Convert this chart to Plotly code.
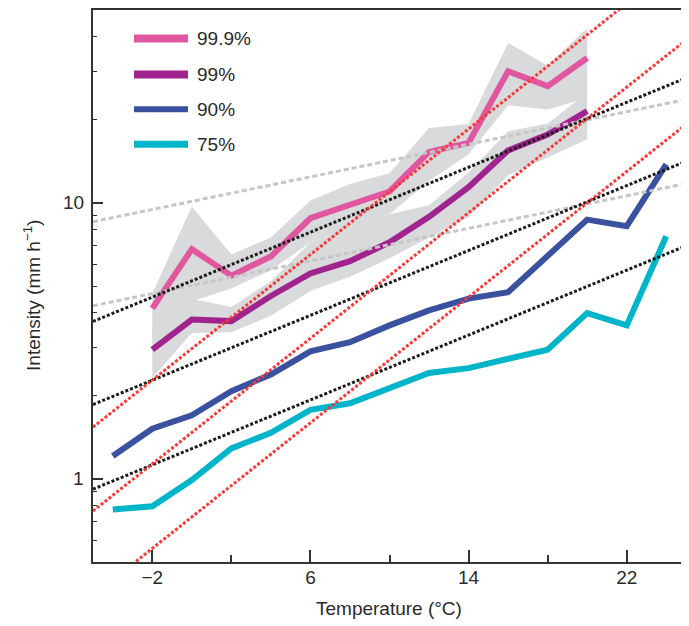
import math
import plotly.graph_objects as go

# ---------------- data ----------------
temps_hi = [-2, 0, 2, 4, 6, 8, 10, 12, 14, 16, 18, 20]
p999 = [4.15, 6.8, 5.45, 6.4, 8.8, 9.8, 11.0, 15.3, 16.5, 30.0, 26.5, 33.5]
p99 = [2.94, 3.78, 3.73, 4.6, 5.55, 6.15, 7.2, 8.9, 11.4, 15.5, 17.7, 21.5]

temps_lo = [-4, -2, 0, 2, 4, 6, 8, 10, 12, 14, 16, 18, 20, 22, 24]
p90 = [1.21, 1.52, 1.7, 2.08, 2.39, 2.9, 3.13, 3.6, 4.08, 4.5, 4.75, 6.4, 8.7, 8.24, 13.8]
p75 = [0.775, 0.796, 0.99, 1.29, 1.47, 1.78, 1.88, 2.14, 2.42, 2.52, 2.71, 2.94, 3.99, 3.6, 7.57]

# uncertainty bands (99.9% and 99%)
bandA_upper = [4.7, 9.7, 6.5, 7.5, 10.2, 11.7, 12.8, 18.7, 19.3, 38.0, 31.5, 43.0]
bandA_lower = [3.2, 4.4, 4.9, 5.7, 7.2, 8.1, 9.1, 12.0, 15.0, 22.6, 21.8, 24.0]
bandB_upper = [3.5, 4.5, 4.2, 5.2, 7.2, 8.1, 9.1, 9.8, 12.9, 18.2, 19.4, 25.0]
bandB_lower = [2.32, 3.38, 3.4, 3.9, 4.8, 5.4, 6.3, 7.5, 8.9, 12.6, 14.6, 17.0]

# scaling reference lines: values at the two ends of the temperature axis
ref_T = [-5, 25]
red_lines = [[1.54, 78.2], [0.765, 38.9], [0.378, 19.25]]
black_lines = [[3.72, 28.35], [1.86, 14.15], [0.918, 6.99]]
grey_lines = [[8.55, 23.7], [4.24, 11.75]]

series_names = ["99.9%", "99%", "90%", "75%"]
series_colors = ["#e0579f", "#a0238e", "#3a519f", "#00b5c9"]
legend_widths = [8, 8, 6, 7]

x_ticks = [-2, 6, 14, 22]
x_minor = [2, 10, 18]
y_ticks = [1, 10]
y_ticktext = ["1", "10"]
y_minor = [0.6, 0.7, 0.8, 0.9, 2, 3, 4, 5, 6, 7, 8, 9, 20, 30, 40]

FONT = "Liberation Sans, Arial, sans-serif"
BAND = "#d9dadb"
TXT = "#2a2a2a"

fig = go.Figure()

# bands
for up, lo in [(bandA_upper, bandA_lower), (bandB_upper, bandB_lower)]:
    fig.add_trace(go.Scatter(
        x=temps_hi + temps_hi[::-1], y=up + lo[::-1],
        fill="toself", fillcolor=BAND, line=dict(width=0, color=BAND),
        mode="lines", hoverinfo="skip", showlegend=False))

# data lines
data = [(temps_hi, p999), (temps_hi, p99), (temps_lo, p90), (temps_lo, p75)]
for (xs, ys), name, col in zip(data, series_names, series_colors):
    fig.add_trace(go.Scatter(x=xs, y=ys, mode="lines", name=name,
                             line=dict(color=col, width=6), showlegend=False))

# reference lines
for vals in grey_lines:
    fig.add_trace(go.Scatter(x=ref_T, y=vals, mode="lines", showlegend=False,
                             line=dict(color="#c6c6c6", width=3, dash="5px,3px")))
for vals in black_lines:
    fig.add_trace(go.Scatter(x=ref_T, y=vals, mode="lines", showlegend=False,
                             line=dict(color="#1c1c1c", width=3, dash="3px,2px")))
for vals in red_lines:
    fig.add_trace(go.Scatter(x=ref_T, y=vals, mode="lines", showlegend=False,
                             line=dict(color="#f53a3a", width=3, dash="3px,2px")))

# page offset of the figure (default body margin) and plot-area placement
OFF = 8
W, H = 681, 618
L, R, T, B = 85, 3, 0, 64
pw, ph = W - L - R, H - T - B
PLOT_LEFT = OFF + L
PLOT_BOTTOM = OFF + H - B


def px_x(p):
    return (p - PLOT_LEFT) / pw


def px_y(p):
    return (PLOT_BOTTOM - p) / ph


rows = [36.7, 72.7, 107.7, 142.7]
for name, col, lw, ry in zip(series_names, series_colors, legend_widths, rows):
    fig.add_shape(type="line", xref="paper", yref="paper",
                  x0=px_x(134), x1=px_x(188), y0=px_y(ry), y1=px_y(ry),
                  line=dict(color=col, width=lw))
    fig.add_annotation(xref="paper", yref="paper", x=px_x(195), y=px_y(ry),
                       text=name, showarrow=False, xanchor="left", yanchor="middle",
                       font=dict(family=FONT, size=19, color=TXT))

# y tick labels placed on the log scale of the y axis
for v, t in zip(y_ticks, y_ticktext):
    fig.add_annotation(xref="paper", yref="y", x=px_x(86), y=math.log10(v),
                       text=t, showarrow=False, xanchor="right", yanchor="middle",
                       font=dict(family=FONT, size=19, color=TXT))

# axis titles
fig.add_annotation(xref="paper", yref="paper", x=px_x(389), y=px_y(609),
                   text="Temperature (°C)", showarrow=False,
                   xanchor="center", yanchor="middle",
                   font=dict(family=FONT, size=19, color=TXT))
fig.add_annotation(xref="paper", yref="paper", x=px_x(32), y=px_y(295),
                   text="Intensity (mm h<sup>−1</sup>)", showarrow=False, textangle=-90,
                   xanchor="center", yanchor="middle",
                   font=dict(family=FONT, size=19, color=TXT))

axis_common = dict(showgrid=False, zeroline=False, showline=True, linecolor="#333333",
                   linewidth=2, mirror=True, ticks="inside", tickcolor="#333333",
                   tickfont=dict(family=FONT, size=19, color=TXT))

fig.update_xaxes(range=[-5, 25], tickmode="array", tickvals=x_ticks,
                 ticklen=12, tickwidth=1.5, ticklabelstandoff=-3,
                 minor=dict(tickmode="array", tickvals=x_minor, ticks="inside",
                            ticklen=7, tickwidth=1.5, tickcolor="#333333"),
                 **axis_common)
fig.update_yaxes(type="log", range=[-0.30103, 1.69897], tickmode="array",
                 tickvals=y_ticks, showticklabels=False,
                 ticklen=10, tickwidth=1.5,
                 minor=dict(tickmode="array", tickvals=y_minor, ticks="inside",
                            ticklen=4, tickwidth=1.2, tickcolor="#333333"),
                 **axis_common)

fig.update_layout(width=W, height=H, margin=dict(l=L, r=R, t=T, b=B),
                  plot_bgcolor="white", paper_bgcolor="white", showlegend=False)

fig.write_html("out.html")
